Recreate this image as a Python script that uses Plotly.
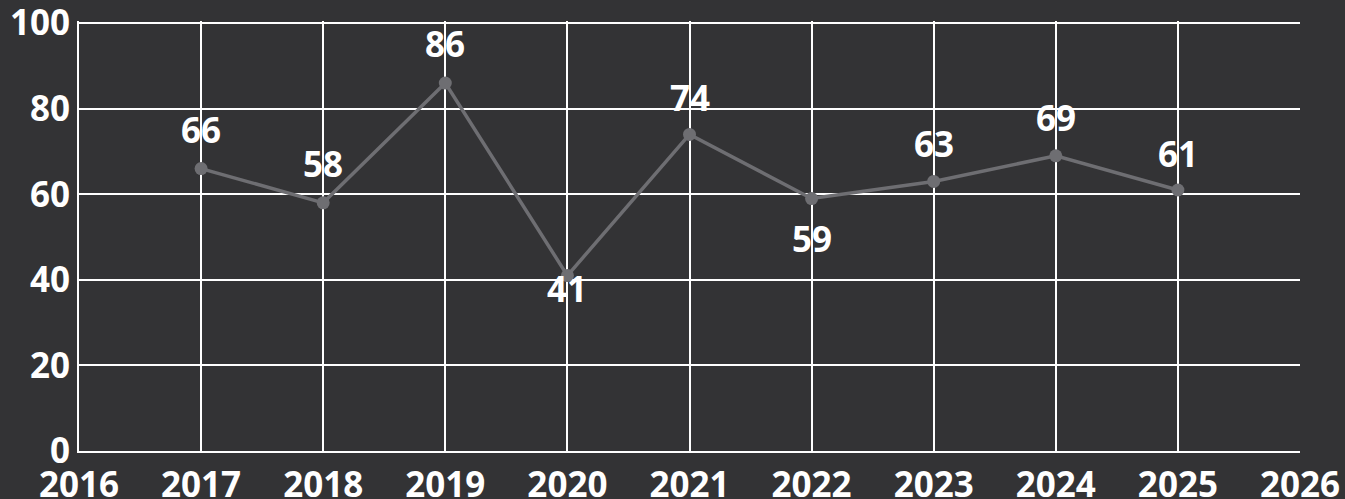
import plotly.graph_objects as go

years = [2017, 2018, 2019, 2020, 2021, 2022, 2023, 2024, 2025]
values = [66, 58, 86, 41, 74, 59, 63, 69, 61]
label_shift = [39, 39, 40, -13, 37, -40, 38, 38, 37]
x_ticks = list(range(2016, 2027))
y_ticks = [0, 20, 40, 60, 80, 100]

BG = "#333335"
FONT = "Open Sans"

fig = go.Figure()
fig.add_trace(go.Scatter(
    x=years, y=values, mode="lines+markers",
    line=dict(color="#6e6e72", width=3.5),
    marker=dict(color="#6e6e72", size=13),
    hoverinfo="skip", showlegend=False, cliponaxis=False,
))

for x, y, s in zip(years, values, label_shift):
    fig.add_annotation(
        x=x, y=y, text=str(y), showarrow=False, yshift=s,
        font=dict(family=FONT, size=35, color="white", weight="bold"),
        yanchor="middle", xanchor="center",
    )

axis_font = dict(family=FONT, size=35, color="white", weight="bold")
fig.update_layout(
    width=1345, height=499,
    paper_bgcolor=BG, plot_bgcolor=BG,
    margin=dict(l=79, r=45, t=21, b=48),
    xaxis=dict(
        range=[2016, 2026], tickvals=x_ticks, ticktext=[str(v) for v in x_ticks],
        showgrid=True, gridcolor="white", gridwidth=2,
        showline=True, linecolor="white", linewidth=2, mirror=False,
        zeroline=False, tickfont=axis_font, ticks="", ticklabelstandoff=2,
        automargin=False, ticklabeloverflow="allow",
    ),
    yaxis=dict(
        range=[0, 100.5], tickvals=y_ticks,
        showgrid=True, gridcolor="white", gridwidth=2,
        showline=True, linecolor="white", linewidth=2,
        zeroline=False, tickfont=axis_font, ticks="", ticklabelstandoff=0,
        automargin=False, ticklabeloverflow="allow",
    ),
)

fig.write_html(
    "out.html",
    config={"displayModeBar": False},
    post_script="document.body.style.margin='0';document.body.style.overflow='hidden';",
)
